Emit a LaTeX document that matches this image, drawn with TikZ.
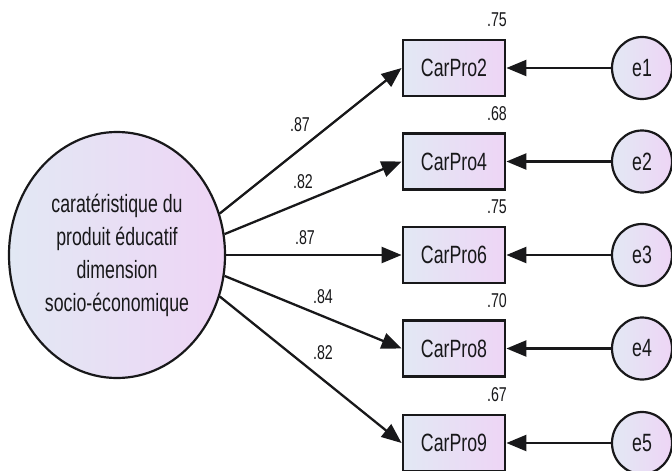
\documentclass[tikz,border=0pt]{standalone}
\usepackage{fontspec}
\setmainfont{Liberation Sans}[FakeStretch=0.71]
\usetikzlibrary{arrows.meta,shapes.geometric}
\definecolor{fillA}{RGB}{226,232,244}
\definecolor{fillB}{RGB}{238,213,245}
\definecolor{ink}{RGB}{24,24,26}
\begin{document}
\begin{tikzpicture}[x=1pt,y=-1pt,
  every node/.style={text=ink},
  varfill/.style={left color=fillA,right color=fillB,shading=axis},
  latent/.style={ellipse,draw=ink,line width=2.2pt,varfill,inner sep=0pt,
    minimum width=216pt,minimum height=246pt,align=center,
    font=\fontsize{25}{33}\selectfont},
  observed/.style={rectangle,draw=ink,line width=2.8pt,varfill,inner sep=0pt,
    minimum width=102pt,minimum height=56pt,font=\fontsize{25}{28}\selectfont},
  errvar/.style={ellipse,draw=ink,line width=2.2pt,varfill,inner sep=0pt,
    minimum width=60pt,minimum height=62pt,font=\fontsize{25}{28}\selectfont},
  path/.style={draw=ink,line width=2.3pt,-{Triangle[length=20pt,width=16pt]}},
  coef/.style={font=\fontsize{20}{22}\selectfont,inner sep=0pt},
  rsq/.style={font=\fontsize{20}{22}\selectfont,inner sep=0pt,anchor=east}
]
\useasboundingbox (0,0) rectangle (672,471);

% latent construct
\node[latent] (L) at (117,255)
  {caratéristique du\\produit éducatif\\dimension\\socio-économique};

% indicators, error terms and loadings
\foreach \i/\name/\y/\ang/\lam/\lx/\ly/\rs in {
    1/CarPro2/68/22/.87/300/125/.75,
    2/CarPro4/161.5/11/.82/303/182/.68,
    3/CarPro6/255/0/.87/305/238/.75,
    4/CarPro8/348.5/-11/.84/323/297/.70,
    5/CarPro9/443/-22/.82/323/353/.67}{
  \node[observed] (x\i) at (454,\y) {\name};
  \node[errvar] (e\i) at (642,\y) {e\i};
  \node[rsq] (r\i) at (507,\y-48) {\rs};
  \node[coef] (c\i) at (\lx,\ly) {\lam};
  \draw[path] (L.\ang) -- (x\i.west);
  \draw[path] (e\i.west) -- (x\i.east);
}
\end{tikzpicture}
\end{document}
